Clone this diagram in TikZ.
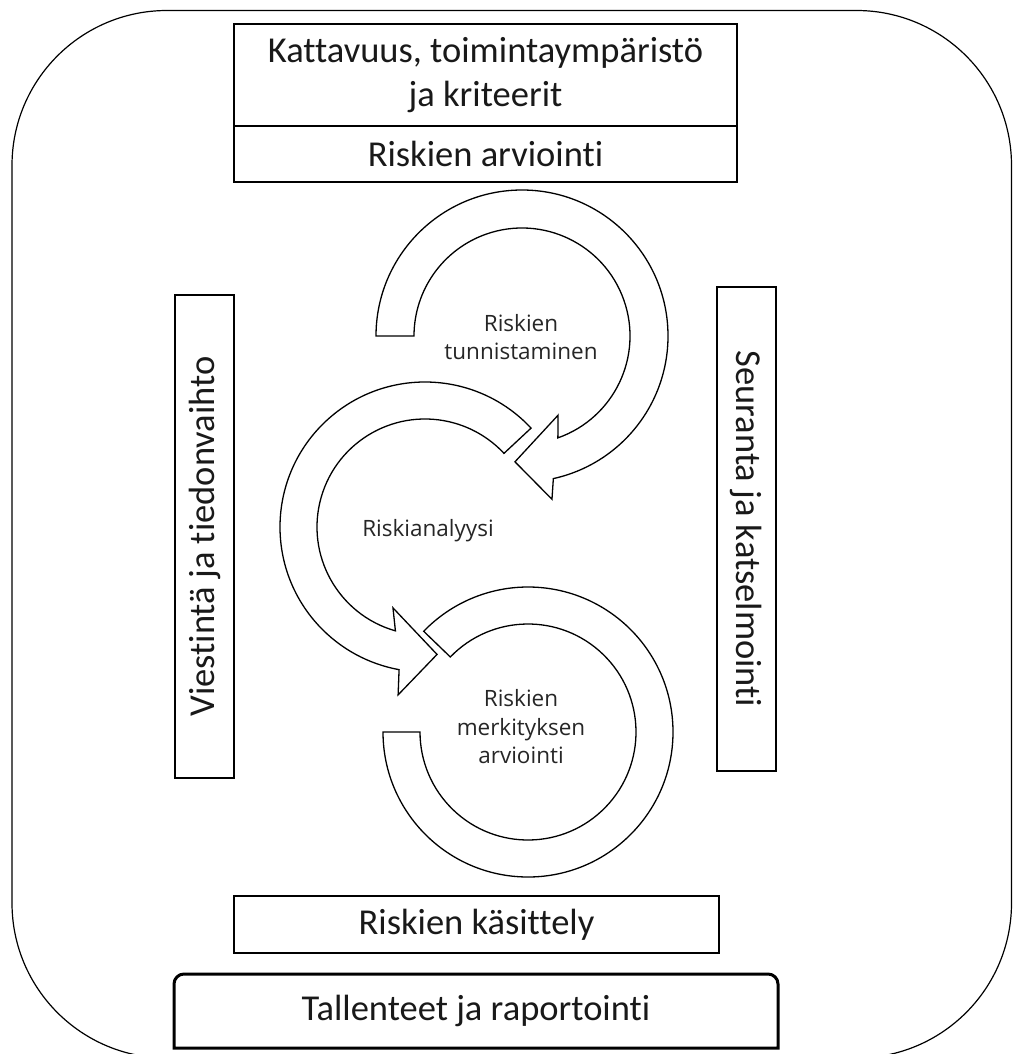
\documentclass[tikz,border=0pt]{standalone}
\usepackage{fontspec}
\setmainfont{Carlito}[Ligatures={NoCommon,NoRequired,NoContextual}]
\newfontfamily\labelfont{Open Sans}[Ligatures={NoCommon,NoRequired,NoContextual}]
\usetikzlibrary{calc}

\begin{document}
\begin{tikzpicture}[x=1pt,y=-1pt,
  box/.style={draw=black, line width=1.3pt, inner sep=0pt, align=center,
    text=black!90, font=\fontsize{36.5}{44}\selectfont},
  band/.style={draw=black, line width=1.3pt, fill=white, line join=miter},
  steplabel/.style={align=center, text=black!85,
    font=\labelfont\fontsize{22.5}{28.5}\selectfont}]

\useasboundingbox (0,0) rectangle (1013,1054);

% outer frame
\draw[line width=1.2pt, rounded corners=155] (12,10.5) rectangle (1011.5,1058);

% centres of the three circular arrows
\coordinate (c1) at (522,336);
\coordinate (c2) at (425,527);
\coordinate (c3) at (528,732);

% arrow 1: clockwise, head at lower left
\draw[band] ($(c1)+(-180:146)$) arc[start angle=-180, end angle=77.6, radius=146]
  -- ($(c1)+(79.6:166)$) -- ($(c1)+(93.2:126)$) -- ($(c1)+(65.5:87)$)
  -- ($(c1)+(70.6:108)$) arc[start angle=70.6, end angle=-180, radius=108] -- cycle;

% arrow 2: counter-clockwise, head at lower right
\draw[band] ($(c2)+(-43:145)$) arc[start angle=-43, end angle=-259.7, radius=145]
  -- ($(c2)+(-260.9:170)$) -- ($(c2)+(-275.4:128)$) -- ($(c2)+(-248.4:87)$)
  -- ($(c2)+(-254.1:108)$) arc[start angle=-254.1, end angle=-43, radius=108] -- cycle;

% arrow 3: open ring without head
\draw[band] ($(c3)+(-180:145)$) arc[start angle=-180, end angle=-496, radius=145]
  -- ($(c3)+(-496:108)$) arc[start angle=-496, end angle=-180, radius=108] -- cycle;

% labels inside the rings
\node[steplabel] (ident) at (521,337) {Riskien\\tunnistaminen};
\node[steplabel] (anal) at (428,531) {Riskianalyysi};
\node[steplabel] (eval) at (521,727) {Riskien\\merkityksen\\arviointi};

% boxes
\node[box, minimum width=503, minimum height=102] (context) at (485.5,75)
  {Kattavuus, toimintaympäristö\\ja kriteerit};
\node[box, minimum width=503, minimum height=56] (assess) at (485.5,154)
  {Riskien arviointi};
\node[box, rotate=90, minimum width=483, minimum height=59] (comm) at (204.5,536.5)
  {Viestintä ja tiedonvaihto};
\node[box, rotate=-90, minimum width=484, minimum height=59] (monitor) at (746.5,529)
  {Seuranta ja katselmointi};
\node[box, minimum width=485, minimum height=57] (treat) at (476.5,924.5)
  {Riskien käsittely};

% records box with rounded upper corners
\draw[line width=3pt] (174,1048) -- (174,984)
  arc[start angle=180, end angle=270, radius=10] -- (768,974)
  arc[start angle=270, end angle=360, radius=10] -- (778,1048) -- cycle;
\node[text=black!90, font=\fontsize{36.5}{44}\selectfont] (records) at (476,1011)
  {Tallenteet ja raportointi};
\end{tikzpicture}
\end{document}
